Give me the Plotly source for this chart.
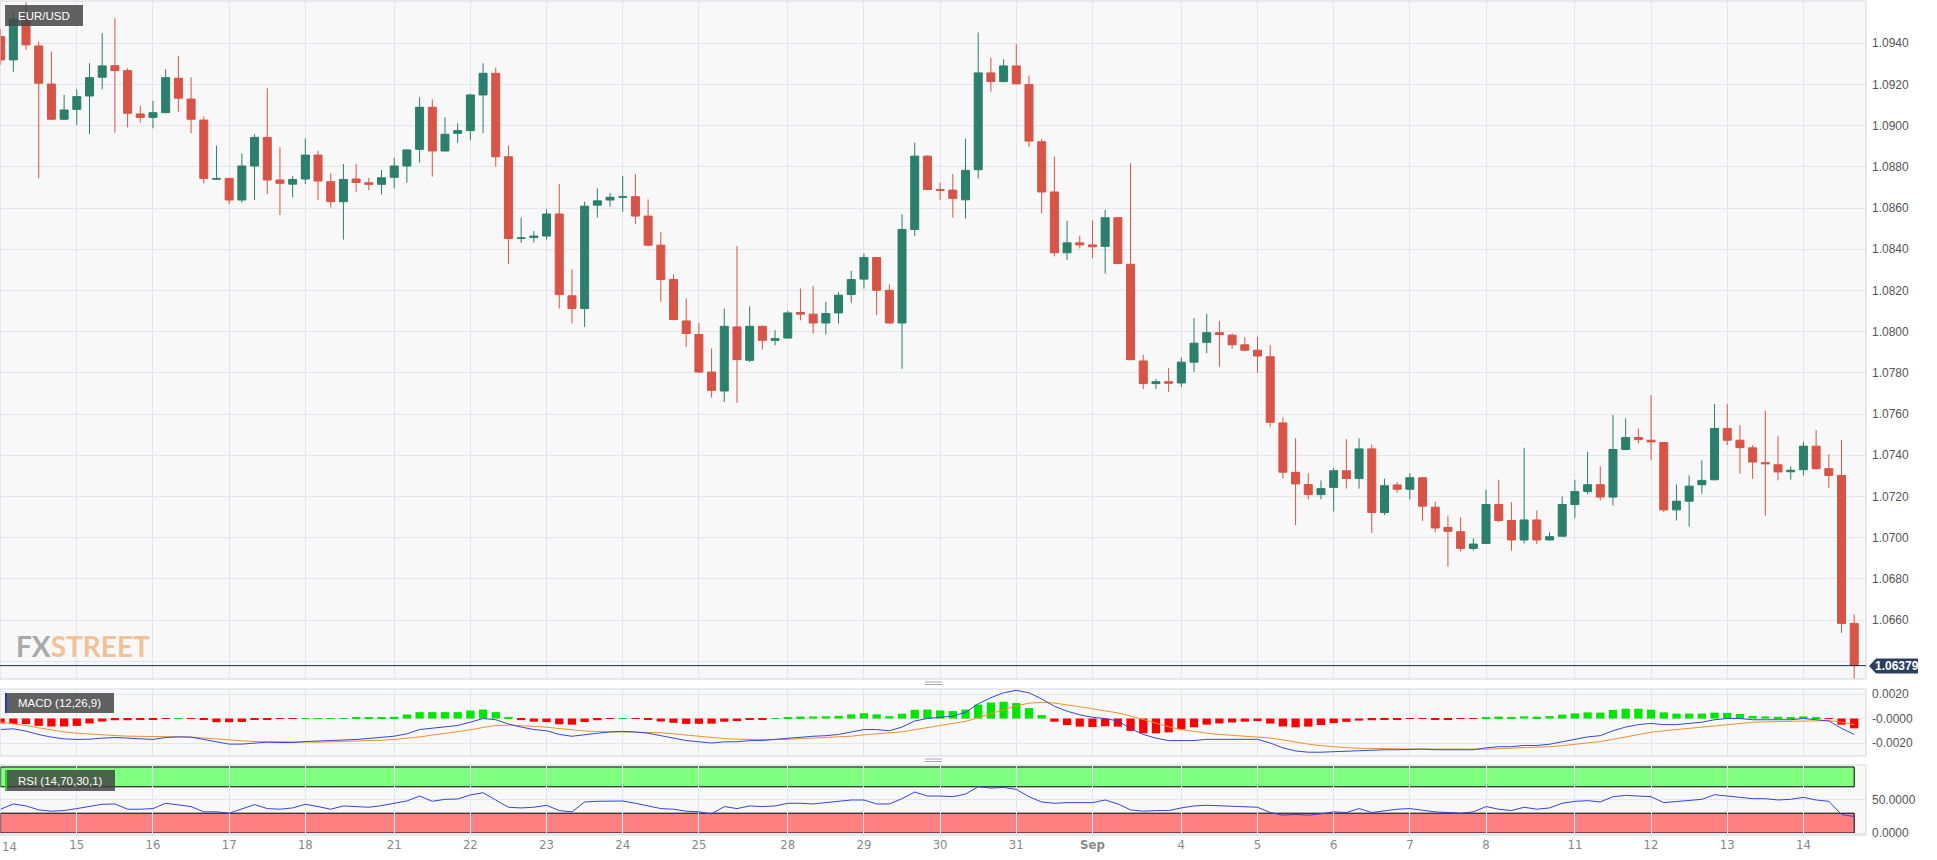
import plotly.graph_objects as go

# ---------------- data (4h EUR/USD candles, 14 Aug - 14 Sep) ----------------
opens = [1.09432,1.09319,1.09517,1.09387,1.09202,1.09031,1.09079,1.09144,1.09235,1.09291,
1.09267,1.09057,1.09040,1.09063,1.09230,1.09129,1.09027,1.08740,1.08744,1.08639,
1.08804,1.08943,1.08736,1.08716,1.08741,1.08857,1.08728,1.08631,1.08741,1.08723,
1.08715,1.08749,1.08804,1.08885,1.09089,1.08877,1.08963,1.08976,1.09149,1.09254,
1.08849,1.08452,1.08457,1.08464,1.08571,1.08174,1.08112,1.08614,1.08639,1.08652,
1.08655,1.08561,1.08420,1.08253,1.08052,1.07986,1.07804,1.07712,1.08023,1.07861,
1.08026,1.07958,1.07969,1.08093,1.08085,1.08042,1.08091,1.08180,1.08255,1.08360,
1.08201,1.08042,1.08496,1.08852,1.08690,1.08687,1.08640,1.08786,1.09256,1.09214,
1.09290,1.09200,1.08922,1.08678,1.08383,1.08431,1.08421,1.08414,1.08553,1.08327,
1.07858,1.07748,1.07757,1.07751,1.07852,1.07948,1.07995,1.07983,1.07936,1.07910,
1.07878,1.07557,1.07317,1.07258,1.07209,1.07244,1.07325,1.07287,1.07431,1.07122,
1.07256,1.07235,1.07291,1.07148,1.07050,1.07029,1.06948,1.06972,1.07161,1.07083,
1.06989,1.07086,1.06989,1.07007,1.07161,1.07224,1.07257,1.07197,1.07428,1.07486,
1.07473,1.07462,1.07135,1.07177,1.07257,1.07281,1.07530,1.07473,1.07436,1.07364,
1.07354,1.07320,1.07330,1.07444,1.07335,1.07302,1.06584]

highs = [1.09468,1.09550,1.09598,1.09408,1.09360,1.09149,1.09176,1.09303,1.09449,1.09522,
1.09279,1.09095,1.09120,1.09274,1.09338,1.09235,1.09044,1.08903,1.08747,1.08865,
1.08958,1.09181,1.08895,1.08755,1.08938,1.08878,1.08768,1.08814,1.08814,1.08747,
1.08784,1.08844,1.08885,1.09138,1.09128,1.09040,1.09011,1.09154,1.09303,1.09282,
1.08903,1.08554,1.08488,1.08595,1.08716,1.08302,1.08631,1.08695,1.08674,1.08755,
1.08765,1.08642,1.08485,1.08277,1.08161,1.08042,1.07918,1.08112,1.08415,1.08123,
1.08029,1.08007,1.08101,1.08209,1.08221,1.08145,1.08193,1.08295,1.08379,1.08363,
1.08230,1.08569,1.08917,1.08856,1.08723,1.08765,1.08936,1.09452,1.09330,1.09322,
1.09395,1.09243,1.08936,1.08849,1.08539,1.08466,1.08539,1.08591,1.08557,1.08817,
1.07887,1.07771,1.07823,1.07875,1.08066,1.08087,1.08052,1.07991,1.07974,1.07974,
1.07934,1.07583,1.07482,1.07313,1.07278,1.07339,1.07478,1.07482,1.07452,1.07287,
1.07270,1.07313,1.07294,1.07174,1.07107,1.07099,1.06997,1.07233,1.07281,1.07172,
1.07436,1.07132,1.07026,1.07200,1.07281,1.07416,1.07346,1.07595,1.07579,1.07530,
1.07693,1.07465,1.07259,1.07302,1.07376,1.07649,1.07649,1.07546,1.07449,1.07616,
1.07493,1.07346,1.07465,1.07522,1.07405,1.07473,1.06628]

lows = [1.09295,1.09262,1.09368,1.08744,1.09027,1.09027,1.09003,1.08960,1.09176,1.08966,
1.08992,1.09014,1.08987,1.09060,1.09068,1.08963,1.08720,1.08736,1.08619,1.08626,
1.08639,1.08668,1.08566,1.08652,1.08716,1.08639,1.08603,1.08447,1.08679,1.08687,
1.08666,1.08695,1.08723,1.08820,1.08752,1.08874,1.08917,1.08930,1.08964,1.08801,
1.08328,1.08431,1.08433,1.08447,1.08112,1.08039,1.08023,1.08554,1.08606,1.08582,
1.08522,1.08415,1.08145,1.08055,1.07926,1.07799,1.07680,1.07659,1.07654,1.07853,
1.07913,1.07934,1.07966,1.08055,1.07991,1.07986,1.08039,1.08140,1.08209,1.08080,
1.08039,1.07820,1.08464,1.08687,1.08639,1.08554,1.08548,1.08744,1.09165,1.09210,
1.09200,1.08896,1.08574,1.08365,1.08348,1.08404,1.08357,1.08282,1.08327,1.07861,
1.07722,1.07722,1.07708,1.07731,1.07805,1.07896,1.07830,1.07917,1.07904,1.07800,
1.07539,1.07287,1.07061,1.07186,1.07186,1.07127,1.07238,1.07238,1.07023,1.07110,
1.07218,1.07186,1.07082,1.07026,1.06859,1.06933,1.06937,1.06969,1.07075,1.06937,
1.06972,1.06969,1.06985,1.07005,1.07096,1.07210,1.07180,1.07156,1.07424,1.07457,
1.07376,1.07124,1.07083,1.07054,1.07213,1.07278,1.07449,1.07311,1.07286,1.07107,
1.07278,1.07281,1.07302,1.07330,1.07242,1.06538,1.06314]

closes = [1.09319,1.09517,1.09392,1.09206,1.09031,1.09076,1.09141,1.09233,1.09290,1.09267,
1.09060,1.09040,1.09063,1.09233,1.09133,1.09031,1.08744,1.08743,1.08639,1.08804,
1.08943,1.08736,1.08720,1.08739,1.08857,1.08731,1.08631,1.08739,1.08724,1.08715,
1.08747,1.08804,1.08882,1.09089,1.08877,1.08958,1.08976,1.09149,1.09254,1.08849,
1.08452,1.08455,1.08464,1.08571,1.08180,1.08112,1.08609,1.08635,1.08652,1.08655,
1.08561,1.08420,1.08253,1.08059,1.07991,1.07804,1.07715,1.08026,1.07864,1.08026,
1.07958,1.07966,1.08091,1.08085,1.08042,1.08088,1.08177,1.08253,1.08360,1.08201,
1.08042,1.08496,1.08852,1.08690,1.08686,1.08647,1.08783,1.09256,1.09214,1.09290,
1.09203,1.08925,1.08678,1.08383,1.08431,1.08421,1.08412,1.08553,1.08331,1.07864,
1.07748,1.07757,1.07750,1.07852,1.07944,1.07995,1.07986,1.07936,1.07910,1.07882,
1.07560,1.07318,1.07261,1.07209,1.07238,1.07325,1.07287,1.07431,1.07122,1.07252,
1.07235,1.07291,1.07153,1.07047,1.07031,1.06948,1.06969,1.07161,1.07083,1.06989,
1.07086,1.06989,1.07005,1.07161,1.07224,1.07257,1.07197,1.07428,1.07486,1.07476,
1.07465,1.07135,1.07177,1.07250,1.07278,1.07530,1.07473,1.07437,1.07367,1.07359,
1.07319,1.07327,1.07444,1.07335,1.07302,1.06584,1.06379]

macd_line = [-0.00090,-0.00084,-0.00103,-0.00131,-0.00152,-0.00166,-0.00171,-0.00169,-0.00160,-0.00155,
-0.00160,-0.00166,-0.00171,-0.00155,-0.00150,-0.00152,-0.00171,-0.00193,-0.00209,-0.00209,
-0.00199,-0.00193,-0.00196,-0.00196,-0.00188,-0.00185,-0.00182,-0.00177,-0.00171,-0.00163,
-0.00155,-0.00144,-0.00125,-0.00090,-0.00079,-0.00068,-0.00057,-0.00030,0.00000,-0.00010,
-0.00045,-0.00070,-0.00090,-0.00100,-0.00130,-0.00145,-0.00130,-0.00120,-0.00110,-0.00105,
-0.00110,-0.00120,-0.00140,-0.00160,-0.00180,-0.00190,-0.00200,-0.00190,-0.00190,-0.00180,
-0.00180,-0.00170,-0.00160,-0.00150,-0.00145,-0.00140,-0.00130,-0.00110,-0.00090,-0.00090,
-0.00100,-0.00070,-0.00020,0.00000,0.00010,0.00020,0.00050,0.00120,0.00170,0.00210,
0.00230,0.00210,0.00160,0.00100,0.00060,0.00030,0.00010,0.00000,-0.00020,-0.00080,
-0.00130,-0.00160,-0.00180,-0.00180,-0.00180,-0.00170,-0.00170,-0.00170,-0.00170,-0.00170,
-0.00200,-0.00240,-0.00265,-0.00275,-0.00275,-0.00270,-0.00265,-0.00260,-0.00260,-0.00255,
-0.00255,-0.00250,-0.00250,-0.00255,-0.00255,-0.00255,-0.00255,-0.00240,-0.00230,-0.00230,
-0.00220,-0.00220,-0.00210,-0.00190,-0.00170,-0.00150,-0.00140,-0.00100,-0.00070,-0.00050,
-0.00040,-0.00050,-0.00050,-0.00040,-0.00030,-0.00010,0.00000,0.00000,-0.00010,-0.00010,
-0.00010,-0.00010,0.00000,-0.00010,-0.00020,-0.00080,-0.00130]

signal_line = [-0.00030,-0.00041,-0.00057,-0.00076,-0.00095,-0.00109,-0.00120,-0.00128,-0.00133,-0.00139,
-0.00144,-0.00147,-0.00150,-0.00150,-0.00150,-0.00152,-0.00158,-0.00166,-0.00174,-0.00182,
-0.00188,-0.00190,-0.00193,-0.00193,-0.00193,-0.00193,-0.00190,-0.00188,-0.00185,-0.00182,
-0.00177,-0.00171,-0.00163,-0.00150,-0.00136,-0.00122,-0.00109,-0.00092,-0.00073,-0.00057,
-0.00054,-0.00057,-0.00064,-0.00071,-0.00083,-0.00095,-0.00102,-0.00106,-0.00107,-0.00107,
-0.00108,-0.00110,-0.00116,-0.00125,-0.00136,-0.00147,-0.00158,-0.00164,-0.00169,-0.00171,
-0.00173,-0.00172,-0.00170,-0.00166,-0.00162,-0.00158,-0.00152,-0.00144,-0.00133,-0.00124,
-0.00119,-0.00109,-0.00091,-0.00073,-0.00056,-0.00041,-0.00023,0.00006,0.00039,0.00073,
0.00104,0.00125,0.00132,0.00126,0.00113,0.00096,0.00079,0.00063,0.00046,0.00021,
-0.00009,-0.00039,-0.00067,-0.00090,-0.00108,-0.00120,-0.00130,-0.00138,-0.00144,-0.00149,
-0.00159,-0.00175,-0.00193,-0.00209,-0.00222,-0.00232,-0.00238,-0.00243,-0.00246,-0.00248,
-0.00249,-0.00249,-0.00249,-0.00250,-0.00251,-0.00252,-0.00253,-0.00250,-0.00246,-0.00243,
-0.00238,-0.00235,-0.00230,-0.00222,-0.00212,-0.00200,-0.00188,-0.00170,-0.00150,-0.00130,
-0.00112,-0.00100,-0.00090,-0.00080,-0.00070,-0.00058,-0.00046,-0.00037,-0.00031,-0.00027,
-0.00024,-0.00021,-0.00017,-0.00016,-0.00017,-0.00030,-0.00050]

macd_hist = [-0.00040,-0.00045,-0.00045,-0.00060,-0.00065,-0.00065,-0.00060,-0.00040,-0.00025,-0.00014,
-0.00014,-0.00010,-0.00008,-0.00002,0.00001,-0.00002,-0.00010,-0.00030,-0.00030,-0.00028,
-0.00010,-0.00005,-0.00003,-0.00002,0.00002,0.00003,0.00003,0.00004,0.00006,0.00008,
0.00010,0.00014,0.00033,0.00052,0.00052,0.00052,0.00052,0.00065,0.00073,0.00052,
0.00009,-0.00013,-0.00026,-0.00029,-0.00047,-0.00050,-0.00028,-0.00014,-0.00003,0.00002,
-0.00002,-0.00010,-0.00024,-0.00035,-0.00044,-0.00043,-0.00042,-0.00026,-0.00021,-0.00009,
-0.00007,0.00002,0.00010,0.00016,0.00017,0.00018,0.00022,0.00034,0.00043,0.00034,
0.00019,0.00039,0.00071,0.00073,0.00066,0.00061,0.00073,0.00114,0.00131,0.00137,
0.00126,0.00085,0.00028,-0.00026,-0.00053,-0.00066,-0.00069,-0.00063,-0.00066,-0.00101,
-0.00121,-0.00121,-0.00113,-0.00090,-0.00072,-0.00050,-0.00040,-0.00032,-0.00026,-0.00021,
-0.00041,-0.00065,-0.00072,-0.00066,-0.00053,-0.00038,-0.00027,-0.00017,-0.00014,-0.00007,
-0.00006,-0.00001,-0.00001,-0.00005,-0.00004,-0.00003,-0.00002,0.00010,0.00016,0.00013,
0.00018,0.00015,0.00020,0.00032,0.00042,0.00050,0.00048,0.00070,0.00080,0.00080,
0.00072,0.00050,0.00040,0.00040,0.00040,0.00048,0.00046,0.00037,0.00021,0.00017,
0.00014,0.00011,0.00017,0.00006,-0.00003,-0.00050,-0.00080]

rsi_line = [36,44,41,35,33,34,37,40,43.5,44,
36,36,37,45,43,40,32,32,30,37,
43,37,36,38,43.5,40,36,41,40,39,
41.5,45,48.5,56,48,51,51.5,57.6,61,50,
39,38,39,42,34,32,47,48,48.5,48.5,
45,41,37,36,33,32,29,40,37,41,
40,41,45,45,44,46,48.5,50,50,44,
44,52,62,56,56,55,59,70,68,69,
66,55,47,45,46,46,46,50,44,35,
33,34,34,38,41,42,41,40,40,39,
31,27,28,27,29,32,31,37,31,34,
36,37,34,32,31,30,32,40,36,34,
39,36,38,45,48,49,47,55,57,56,
55,46,48,50,51,58,56,54,52,52,
50,51,54,50,48,28,25]

day_labels = ["14","15","16","17","18","21","22","23","24","25","28","29","30","31",
              "<b>Sep</b>","4","5","6","7","8","11","12","13","14"]
day_first_candle = [0,6,12,18,24,31,37,43,49,55,62,68,74,80,86,93,99,105,111,117,124,130,136,142]

price_ticks = [1.0640,1.0660,1.0680,1.0700,1.0720,1.0740,1.0760,1.0780,1.0800,
               1.0820,1.0840,1.0860,1.0880,1.0900,1.0920,1.0940]
macd_ticks = [0.0020, 0.0, -0.0020]
macd_tick_text = ["0.0020", "-0.0000", "-0.0020"]
rsi_ticks = [50, 0]
rsi_tick_text = ["50.0000", "0.0000"]
rsi_upper, rsi_lower = 70, 30
last_price = 1.06379
symbol = "EUR/USD"

# ---------------- layout geometry (pixels) ----------------
W, H = 1937, 860
ML, MR, MT, MB = 0, 71, 1, 25
PW = W - ML - MR
PH = H - MT - MB
def px(x):  # pixel x -> paper
    return (x - ML) / PW
def py(y):  # pixel y -> paper
    return (H - MB - y) / PH

GREEN = "#2b7f6c"
RED = "#d75446"
GRID = "#e3e6ea"
BORDER = "#d3d7dd"
BG = "#f8f8f8"
AXFONT = "Liberation Sans Narrow, DejaVu Sans Condensed, Arial Narrow, Liberation Sans, sans-serif"
idx = list(range(len(closes)))

fig = go.Figure()
fig.add_trace(go.Candlestick(
    x=idx, open=opens, high=highs, low=lows, close=closes,
    increasing=dict(line=dict(color=GREEN, width=1), fillcolor=GREEN),
    decreasing=dict(line=dict(color=RED, width=1), fillcolor=RED),
    whiskerwidth=0, xaxis="x", yaxis="y", showlegend=False, hoverinfo="skip"))

fig.add_trace(go.Bar(
    x=idx, y=macd_hist, xaxis="x", yaxis="y2", showlegend=False,
    marker=dict(color=["#00e600" if v >= 0 else "#ff0000" for v in macd_hist], line=dict(width=0)),
    hoverinfo="skip"))
fig.add_trace(go.Scatter(x=idx, y=signal_line, xaxis="x", yaxis="y2", mode="lines",
                         line=dict(color="#f0902e", width=1), showlegend=False, hoverinfo="skip"))
fig.add_trace(go.Scatter(x=idx, y=macd_line, xaxis="x", yaxis="y2", mode="lines",
                         line=dict(color="#3548d6", width=1), showlegend=False, hoverinfo="skip"))
fig.add_trace(go.Scatter(x=idx, y=rsi_line, xaxis="x", yaxis="y3", mode="lines",
                         line=dict(color="#3344dd", width=1), showlegend=False, hoverinfo="skip"))

tickfont_y = dict(family="Arial, Liberation Sans, sans-serif", size=12, color="#555555")
yax_common = dict(side="right", anchor="x", showgrid=True, gridcolor=GRID, gridwidth=1,
                  zeroline=False, showline=False, ticks="", tickfont=tickfont_y,
                  ticklabelstandoff=5, fixedrange=True)

shapes = []
# panel borders
for (y0, y1) in [(1, 679), (689, 756), (765, 835)]:
    shapes.append(dict(type="rect", xref="paper", yref="paper", x0=0, x1=1,
                       y0=py(y1), y1=py(y0), line=dict(color=BORDER, width=1), layer="above"))
# RSI zones
shapes.append(dict(type="rect", xref="x", yref="y3", x0=0, x1=idx[-1], y0=rsi_upper, y1=100,
                   fillcolor="#80ff80", line=dict(color="black", width=1), layer="below"))
shapes.append(dict(type="rect", xref="x", yref="y3", x0=0, x1=idx[-1], y0=0, y1=rsi_lower,
                   fillcolor="#ff8080", line=dict(color="black", width=1), layer="below"))
# last price line
shapes.append(dict(type="line", xref="paper", yref="y", x0=0, x1=1, y0=last_price, y1=last_price,
                   line=dict(color="#1d2f4b", width=1), layer="above"))
# label boxes
shapes.append(dict(type="rect", xref="paper", yref="paper", x0=px(5), x1=px(83), y0=py(26), y1=py(5),
                   fillcolor="rgba(70,70,70,0.85)", line=dict(width=0)))
shapes.append(dict(type="rect", xref="paper", yref="paper", x0=px(5), x1=px(114), y0=py(713), y1=py(693),
                   fillcolor="rgba(70,70,70,0.85)", line=dict(width=0)))
shapes.append(dict(type="rect", xref="paper", yref="paper", x0=px(5), x1=px(7), y0=py(713), y1=py(693),
                   fillcolor="#2233cc", line=dict(width=0)))
shapes.append(dict(type="rect", xref="paper", yref="paper", x0=px(5), x1=px(115), y0=py(791), y1=py(770),
                   fillcolor="rgba(60,60,60,0.80)", line=dict(width=0)))
shapes.append(dict(type="rect", xref="paper", yref="paper", x0=px(5), x1=px(7), y0=py(791), y1=py(770),
                   fillcolor="#33cc33", line=dict(width=0)))
# price tag with arrow
tag = "M {} {} L {} {} L {} {} L {} {} L {} {} Z".format(
    px(1869), py(666), px(1876), py(658.5), px(1918), py(658.5), px(1918), py(673.5), px(1876), py(673.5))
shapes.append(dict(type="path", xref="paper", yref="paper", path=tag,
                   fillcolor="#2b3f5c", line=dict(width=0)))
# panel separator handles
for yy in (682, 759):
    for dy in (0, 2.5):
        shapes.append(dict(type="line", xref="paper", yref="paper", x0=px(925), x1=px(942),
                           y0=py(yy + dy), y1=py(yy + dy), line=dict(color="#a8a8a8", width=1)))

lab_font = dict(family="Arial, Liberation Sans, sans-serif", size=11.5, color="white")
annotations = [
    dict(text=symbol, xref="paper", yref="paper", x=px(16), y=py(15.5), xanchor="left",
         yanchor="middle", showarrow=False, font=lab_font),
    dict(text="MACD (12,26,9)", xref="paper", yref="paper", x=px(16), y=py(703), xanchor="left",
         yanchor="middle", showarrow=False, font=lab_font),
    dict(text="RSI (14,70,30,1)", xref="paper", yref="paper", x=px(16), y=py(780.5), xanchor="left",
         yanchor="middle", showarrow=False, font=lab_font),
    dict(text="<b>{:.5f}</b>".format(last_price), xref="paper", yref="paper", x=px(1897), y=py(666),
         xanchor="center", yanchor="middle", showarrow=False,
         font=dict(family="Arial, Liberation Sans, sans-serif", size=12, color="white")),
    dict(text="<b><span style='color:#a9a9a9'>FX</span><span style='color:#f2c296'>STREET</span></b>",
         xref="paper", yref="paper", x=px(14), y=py(646), xanchor="left", yanchor="middle",
         showarrow=False,
         font=dict(family="Lato, Roboto, sans-serif", size=28, color="#a9a9a9")),
    # first day label sits at the very left edge of the chart
    dict(text=day_labels[0], xref="paper", yref="paper", x=px(0), y=py(847), xanchor="left",
         yanchor="middle", showarrow=False, font=dict(family=AXFONT, size=13, color="#888888")),
]

tick_text = [""] + day_labels[1:]
price_text = ["" if i == 0 else "{:.4f}".format(v) for i, v in enumerate(price_ticks)]

fig.update_layout(
    width=W, height=H,
    margin=dict(l=ML, r=MR, t=MT, b=MB),
    paper_bgcolor="white", plot_bgcolor=BG,
    showlegend=False, bargap=0.35, boxgap=0.3, boxgroupgap=0.1,
    hovermode=False,
    xaxis=dict(range=[-0.05, 146.93], anchor="y3", tickmode="array", tickvals=day_first_candle,
               ticktext=tick_text, showgrid=True, gridcolor=GRID, zeroline=False, ticks="",
               showline=False, rangeslider=dict(visible=False), fixedrange=True,
               tickfont=dict(family=AXFONT, size=13, color="#888888")),
    yaxis=dict(domain=[py(679), py(1)], range=[1.06314, 1.09605], tickmode="array",
               tickvals=price_ticks, ticktext=price_text, **yax_common),
    yaxis2=dict(domain=[py(756), py(689)], range=[-0.00306, 0.00241], tickmode="array",
                tickvals=macd_ticks, ticktext=macd_tick_text, **yax_common),
    yaxis3=dict(domain=[py(835), py(765)], range=[-3.03, 103.0], tickmode="array",
                tickvals=rsi_ticks, ticktext=rsi_tick_text, **yax_common),
    shapes=shapes, annotations=annotations,
)

fig.write_html("out.html")
